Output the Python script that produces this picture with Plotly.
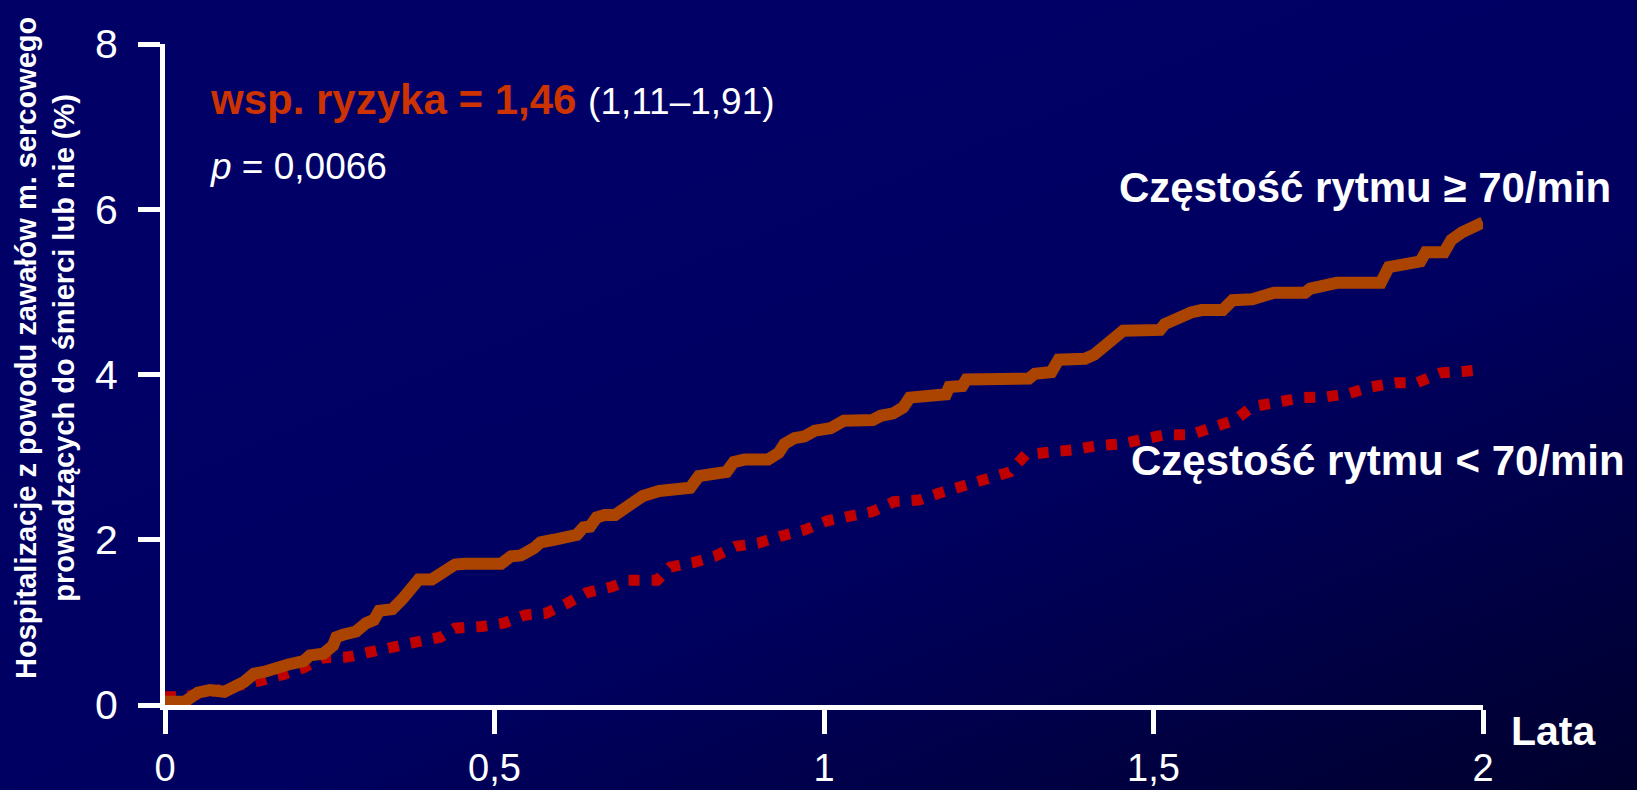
import base64
import plotly.graph_objects as go

# ---------------- data ----------------
x_high = [0, .03, .05, .068, .09, .11, .12, .135, .15, .187, .2, .21, .22, .24, .255, .26, .27, .29, .305, .317,
          .325, .345, .36, .373, .385, .405, .425, .44, .455, .51, .525, .54, .56, .57, .59, .605, .625, .635, .645,
          .655, .667, .683, .7, .71, .725, .75, .777, .797, .81, .828, .852, .863, .879, .915, .931, .94, .955, .97,
          .986, 1.01, 1.03, 1.074, 1.086, 1.105, 1.12, 1.13, 1.16, 1.185, 1.19, 1.21, 1.216, 1.311, 1.32, 1.345,
          1.356, 1.396, 1.41, 1.43, 1.454, 1.51, 1.517, 1.557, 1.573, 1.605, 1.62, 1.65, 1.683, 1.73, 1.738, 1.778,
          1.845, 1.857, 1.905, 1.913, 1.941, 1.952, 1.968, 2.0]
y_high = [.04, .04, .15, .18, .16, .22, .28, .38, .4, .49, .53, .53, .6, .62, .72, .82, .85, .89, .99, 1.03,
          1.14, 1.16, 1.28, 1.41, 1.52, 1.52, 1.63, 1.7, 1.71, 1.71, 1.8, 1.81, 1.9, 1.97, 2.0, 2.04, 2.06, 2.15,
          2.16, 2.27, 2.3, 2.3, 2.41, 2.46, 2.53, 2.59, 2.63, 2.63, 2.77, 2.8, 2.82, 2.94, 2.97, 2.97, 3.05, 3.16,
          3.23, 3.25, 3.32, 3.35, 3.44, 3.45, 3.5, 3.53, 3.6, 3.72, 3.75, 3.76, 3.85, 3.86, 3.94, 3.95, 4.01, 4.03,
          4.18, 4.19, 4.24, 4.37, 4.53, 4.54, 4.61, 4.75, 4.78, 4.78, 4.9, 4.91, 4.99, 4.99, 5.04, 5.11, 5.11, 5.3,
          5.37, 5.48, 5.48, 5.63, 5.72, 5.84]

x_low = [0, .03, .068, .115, .148, .18, .21, .24, .276, .31, .344, .38, .418, .44, .48, .514, .547, .578, .61, .64,
         .678, .703, .747, .767, .80, .834, .866, .9, .933, .971, 1.005, 1.04, 1.073, 1.106, 1.144, 1.177, 1.211,
         1.245, 1.282, 1.306, 1.342, 1.38, 1.414, 1.452, 1.485, 1.518, 1.556, 1.59, 1.624, 1.65, 1.69, 1.726,
         1.762, 1.797, 1.83, 1.867, 1.9, 1.936, 1.973, 2.0]
y_low = [.1, .1, .16, .23, .3, .37, .45, .57, .58, .64, .71, .76, .82, .93, .95, .99, 1.09, 1.11, 1.23, 1.36,
         1.43, 1.51, 1.51, 1.67, 1.72, 1.8, 1.92, 1.96, 2.04, 2.12, 2.23, 2.27, 2.34, 2.46, 2.48, 2.57, 2.65,
         2.73, 2.82, 3.03, 3.05, 3.09, 3.14, 3.16, 3.22, 3.27, 3.27, 3.36, 3.45, 3.61, 3.67, 3.72, 3.73, 3.77,
         3.85, 3.9, 3.9, 4.02, 4.04, 4.06]

x_tickvals = [0, 0.5, 1, 1.5, 2]
x_ticktext = ["0", "0,5", "1", "1,5", "2"]
y_tickvals = [0, 2, 4, 6, 8]
y_ticktext = ["0", "2", "4", "6", "8"]

label_high = "Częstość rytmu ≥ 70/min"
label_low = "Częstość rytmu &lt; 70/min"
hr_text = "wsp. ryzyka = 1,46"
ci_text = "(1,11–1,91)"
p_text = "<i>p</i> = 0,0066"
y_title = "Hospitalizacje z powodu zawałów m. sercowego<br>prowadzących do śmierci lub nie (%)"
x_title = "Lata"

# ---------------- layout geometry ----------------
W, H = 1637, 790
L, R, T, B = 165, 154, 44, 85
PW, PH = W - L - R, H - T - B
FONT = "Arial, Liberation Sans, sans-serif"


def xp(px):
    return (px - L) / PW


def yp(py):
    return (H - B - py) / PH


svg = (
    "<svg xmlns='http://www.w3.org/2000/svg' width='1637' height='790' preserveAspectRatio='none'>"
    "<defs><linearGradient id='g' x1='0.35' y1='0.25' x2='1' y2='1'>"
    "<stop offset='0' stop-color='#000066'/><stop offset='0.45' stop-color='#000060'/>"
    "<stop offset='1' stop-color='#00002c'/></linearGradient></defs>"
    "<rect width='1637' height='790' fill='url(#g)'/></svg>"
)
bg_uri = "data:image/svg+xml;base64," + base64.b64encode(svg.encode()).decode()

fig = go.Figure()
fig.add_trace(go.Scatter(x=x_low, y=y_low, mode="lines",
                         line=dict(color="#C00000", width=11, dash="11px,12px"),
                         hoverinfo="skip", showlegend=False))
fig.add_trace(go.Scatter(x=x_high, y=y_high, mode="lines",
                         line=dict(color="#AA4400", width=12),
                         hoverinfo="skip", showlegend=False))

fig.update_layout(
    width=W, height=H,
    margin=dict(l=L, r=R, t=T, b=B, pad=0, autoexpand=False),
    paper_bgcolor="#000060",
    plot_bgcolor="rgba(0,0,0,0)",
    font=dict(family=FONT, color="white"),
    images=[dict(source=bg_uri, xref="paper", yref="paper",
                 x=-L / PW, y=1 + T / PH, sizex=W / PW, sizey=H / PH,
                 xanchor="left", yanchor="top", sizing="stretch", layer="below")],
)
fig.update_xaxes(range=[0, 2], showgrid=False, zeroline=False, automargin=False,
                 showline=True, linecolor="white", linewidth=5,
                 ticks="outside", ticklen=24, tickwidth=5, tickcolor="white",
                 ticklabelstandoff=1,
                 tickvals=x_tickvals, ticktext=x_ticktext,
                 tickfont=dict(family=FONT, size=38, color="white"))
fig.update_yaxes(range=[0, 8], showgrid=False, zeroline=False, automargin=False,
                 showline=True, linecolor="white", linewidth=5,
                 ticks="outside", ticklen=22, tickwidth=5, tickcolor="white",
                 ticklabelstandoff=12,
                 tickvals=y_tickvals, ticktext=y_ticktext,
                 tickfont=dict(family=FONT, size=41, color="white"))

ann = [
    dict(text=f"<b><span style='color:#CC3300'>{hr_text}</span></b> <span style='font-size:37px'>{ci_text}</span>",
         x=xp(208), y=yp(99), xanchor="left", yanchor="middle", font=dict(size=42, color="white")),
    dict(text=p_text, x=xp(208), y=yp(166), xanchor="left", yanchor="middle",
         font=dict(size=37, color="white")),
    dict(text=f"<b>{label_high}</b>", x=xp(1117), y=yp(187), xanchor="left", yanchor="middle",
         font=dict(size=42, color="white")),
    dict(text=f"<b>{label_low}</b>", x=xp(1129), y=yp(461), xanchor="left", yanchor="middle",
         font=dict(size=42, color="white")),
    dict(text=f"<b>{x_title}</b>", x=xp(1509), y=yp(731), xanchor="left", yanchor="middle",
         font=dict(size=41, color="white")),
    dict(text=f"<b>{y_title}</b>", x=xp(45), y=yp(348), xanchor="center", yanchor="middle",
         textangle=-90, font=dict(size=29, color="white")),
]
for a in ann:
    a.update(xref="paper", yref="paper", showarrow=False)
fig.update_layout(annotations=ann)

fig.write_html("out.html")
